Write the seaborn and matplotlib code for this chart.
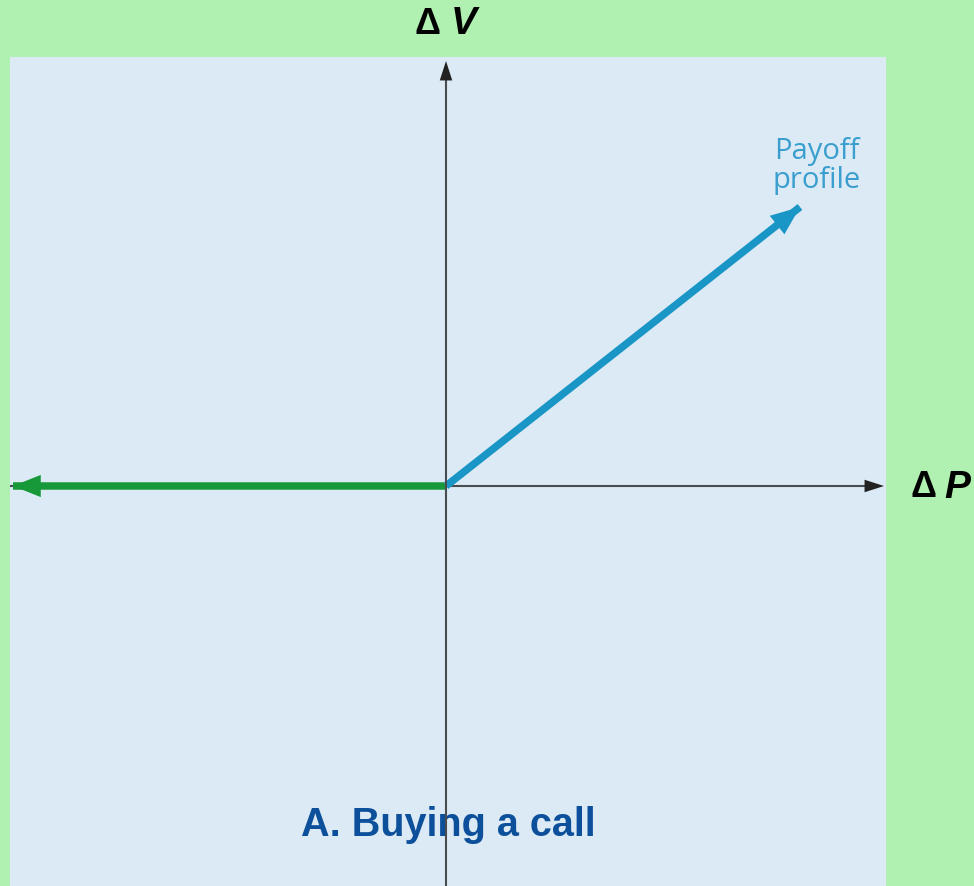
import matplotlib
matplotlib.use("Agg")
import matplotlib.pyplot as plt
import seaborn as sns
import pandas as pd

# payoff of buying a call (abstract units, origin = strike / zero change)
loss_x = [-433, 0]
loss_y = [0, 0]
gain_x = [0, 354]
gain_y = [0, 279]

sns.set_style("white")
plt.rcParams['font.family'] = ['Liberation Sans', 'DejaVu Sans']

fig = plt.figure(figsize=(9.74, 8.87), dpi=100)
fig.patch.set_facecolor("#b0f0b0")
ax = fig.add_axes([10 / 974, 0, 876 / 974, 829 / 887])
ax.set_facecolor("#dbeaf4")
ax.set_xlim(-436, 440)
ax.set_ylim(-400, 429)
for s in ax.spines.values():
    s.set_visible(False)
ax.set_xticks([])
ax.set_yticks([])

green = "#17993a"
blue = "#1996c6"
axis_col = "#4a4d50"

# flat part of the payoff (green) and the rising part (blue)
loss = pd.DataFrame({"x": loss_x, "y": loss_y})
gain = pd.DataFrame({"x": gain_x, "y": gain_y})
sns.lineplot(data=loss, x="x", y="y", ax=ax, color=green, linewidth=5.4,
             solid_capstyle="butt", zorder=3)
sns.lineplot(data=gain, x="x", y="y", ax=ax, color=blue, linewidth=5.4,
             solid_capstyle="butt", zorder=3)


def head(tip, back, color, length, width, z):
    ax.annotate("", xy=tip, xytext=back,
                arrowprops=dict(arrowstyle=f"simple,head_length={length},head_width={width},tail_width=0.01",
                                mutation_scale=1, lw=0, color=color,
                                shrinkA=0, shrinkB=0), zorder=z)


# arrow heads of the payoff lines
head((loss_x[0], loss_y[0]), (loss_x[0] + 40, loss_y[0]), green, 20, 16, 4)
head((gain_x[1], gain_y[1]), (gain_x[1] - 40, gain_y[1] - 31.5), blue, 21, 17, 4)

# axes with arrows
ax.plot([-436, 430], [0, 0], color=axis_col, lw=1.5, zorder=2)
ax.plot([0, 0], [-400, 415], color=axis_col, lw=1.5, zorder=5)
head((438, 0), (420, 0), "#222222", 14, 9, 2)
head((0, 425), (0, 405), "#222222", 14, 9, 5)

fig.text(440 / 974, 1 - 24 / 887, "Δ", ha="right", va="center",
         fontsize=26, fontweight="bold", color="black")
fig.text(451 / 974, 1 - 24 / 887, "V", ha="left", va="center",
         fontsize=28, fontweight="bold", style="italic", color="black")
fig.text(937 / 974, 1 - 488 / 887, "Δ", ha="right", va="center",
         fontsize=26, fontweight="bold", color="black")
fig.text(944 / 974, 1 - 488 / 887, "P", ha="left", va="center",
         fontsize=28, fontweight="bold", style="italic", color="black")
ax.text(371, 321, "Payoff\nprofile", ha="center", va="center",
        fontsize=21, color="#3a9fce", linespacing=1.0, family="Open Sans")
ax.text(2, -338, "A. Buying a call", ha="center", va="center",
        fontsize=28.5, fontweight="bold", color="#0c4f9a", zorder=1)

fig.savefig("out.png", dpi=100, facecolor=fig.get_facecolor())
